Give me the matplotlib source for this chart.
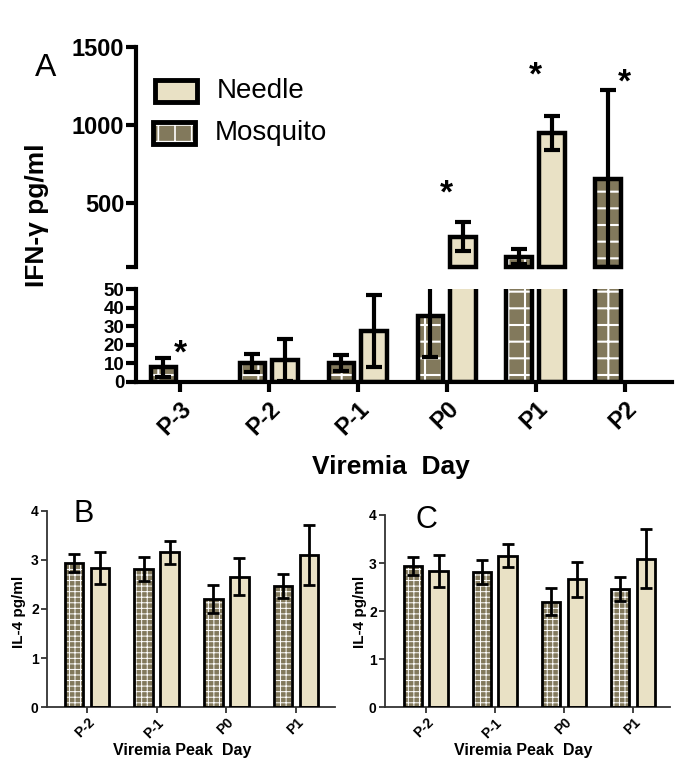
"""IFN-gamma / IL-4 Balkendiagramme (Needle vs. Mosquito)."""

import numpy as np
import matplotlib
matplotlib.use("Agg")
import matplotlib.pyplot as plt
from matplotlib.patches import Rectangle

plt.rcParams['font.family'] = ['Liberation Sans', 'DejaVu Sans']
plt.rcParams['hatch.linewidth'] = 1.2

NEEDLE_COLOR = '#E9E1C5'
MOSQ_COLOR = '#82795C'

# Panel A: IFN-gamma (pg/ml), Achse mit Bruch
days_a = ['P-3', 'P-2', 'P-1', 'P0', 'P1', 'P2']
needle_a = [np.nan, 11.7, 27.6, 284, 951, np.nan]
needle_err_a = [np.nan, 11.3, 19.4, 95, 110, np.nan]
mosquito_a = [7.8, 10.0, 10.0, 35.6, 155, 654]
mosquito_err_a = [5.0, 4.8, 4.3, 22.4, 48, 569]
star_days_a = ['P-3', 'P0', 'P1', 'P2']
star_y_a = [21, 628, 1386, 1341]
lower_ticks_a = [0, 10, 20, 30, 40, 50]
upper_ticks_a = [500, 1000, 1500]
BREAK_LO = 50   # oberes Ende des unteren Segments
BREAK_HI = 90   # unteres Ende des oberen Segments

# Panel B und C: IL-4 (pg/ml)
days_b = ['P-2', 'P-1', 'P0', 'P1']
mosquito_b = [2.94, 2.81, 2.20, 2.47]
mosquito_err_b = [0.18, 0.25, 0.29, 0.25]
needle_b = [2.83, 3.15, 2.66, 3.09]
needle_err_b = [0.33, 0.24, 0.37, 0.61]


def draw_bars(ax, x, vals, errs, color, hatch, width, lw, elw, capsize,
              bottom=0.0, clip_outline=True, hatch_lw=1.2):
    """Balken mit weisser Schraffur, schwarzem Rand und Fehlerbalken."""
    vals = np.asarray(vals, float)
    heights = vals - bottom
    fill = ax.bar(x, heights, width, bottom=bottom, color=color,
                  edgecolor='white' if hatch else color, hatch=hatch,
                  linewidth=0, zorder=2)
    for p in fill:
        if hasattr(p, 'set_hatch_linewidth'):
            p.set_hatch_linewidth(hatch_lw)
    ax.bar(x, heights, width, bottom=bottom, facecolor='none',
           edgecolor='black', linewidth=lw, zorder=3, clip_on=clip_outline)
    ax.errorbar(x, vals, yerr=errs, fmt='none', ecolor='black',
                elinewidth=elw, capsize=capsize, capthick=elw, zorder=4)


def panel_a(fig):
    ax_up = fig.add_axes([0.1985, 0.6585, 0.7825, 0.2809])
    ax_lo = fig.add_axes([0.1985, 0.5113, 0.7825, 0.1183])
    x = np.arange(len(days_a))
    w, off = 0.29, 0.185

    # unteres Segment
    draw_bars(ax_lo, x - off, mosquito_a, mosquito_err_a, MOSQ_COLOR, '+', w, 3.2, 3.0, 5.5,
              hatch_lw=1.5)
    draw_bars(ax_lo, x + off, needle_a, needle_err_a, NEEDLE_COLOR, None, w, 3.2, 3.0, 5.5)
    ax_lo.set_ylim(0, BREAK_LO)
    ax_lo.set_yticks(lower_ticks_a)
    ax_lo.set_xticks(x)
    ax_lo.set_xticklabels(days_a, rotation=45, ha='right', va='top',
                          rotation_mode='anchor', fontsize=17, fontweight='bold')

    # oberes Segment: nur Werte oberhalb des Bruchs
    m_up = np.where(np.array(mosquito_a) > BREAK_HI, mosquito_a, np.nan)
    n_up = np.where(np.nan_to_num(needle_a) > BREAK_HI, needle_a, np.nan)
    draw_bars(ax_up, x - off, m_up, mosquito_err_a, MOSQ_COLOR, '+', w, 3.2, 3.0, 5.5,
              bottom=BREAK_HI, clip_outline=False, hatch_lw=1.5)
    draw_bars(ax_up, x + off, n_up, needle_err_a, NEEDLE_COLOR, None, w, 3.2, 3.0, 5.5,
              bottom=BREAK_HI, clip_outline=False)
    ax_up.set_ylim(BREAK_HI, 1500)
    ax_up.set_yticks([BREAK_HI] + upper_ticks_a)
    ax_up.set_yticklabels([''] + [str(t) for t in upper_ticks_a])
    ax_up.set_xticks([])

    # 50er-Skala ist eng, daher kleinere Schrift unten
    for ax, size in ((ax_up, 17), (ax_lo, 13.5)):
        ax.set_xlim(-0.494, 5.53)
        for s in ('top', 'right'):
            ax.spines[s].set_visible(False)
        ax.spines['left'].set_linewidth(3)
        ax.spines['bottom'].set_linewidth(3)
        ax.tick_params(axis='y', length=7, width=3, pad=1.5, labelsize=size)
        for lab in ax.get_yticklabels():
            lab.set_fontweight('bold')
    ax_up.spines['bottom'].set_visible(False)
    ax_lo.tick_params(axis='x', length=7, width=3, pad=4)

    # Signifikanz-Sterne
    for day, y in zip(star_days_a, star_y_a):
        ax = ax_lo if y <= BREAK_LO else ax_up
        ax.annotate('*', (days_a.index(day), y), xytext=(0, -14),
                    textcoords='offset points', ha='center', va='baseline',
                    fontsize=24, fontweight='bold', annotation_clip=False)

    # Legende
    fig.patches.append(Rectangle((155 / 685, 1 - 102 / 781), 42 / 685, 22 / 781,
                                 transform=fig.transFigure, facecolor=NEEDLE_COLOR,
                                 edgecolor='black', linewidth=3.5))
    fig.patches.append(Rectangle((153 / 685, 1 - 144 / 781), 42 / 685, 22 / 781,
                                 transform=fig.transFigure, facecolor=MOSQ_COLOR,
                                 edgecolor='white', hatch='+', linewidth=0))
    fig.patches.append(Rectangle((153 / 685, 1 - 144 / 781), 42 / 685, 22 / 781,
                                 transform=fig.transFigure, facecolor='none',
                                 edgecolor='black', linewidth=3.5))
    fig.text(217 / 685, 1 - 91 / 781, 'Needle', fontsize=20, va='center')
    fig.text(215 / 685, 1 - 133 / 781, 'Mosquito', fontsize=20, va='center')

    fig.text(37 / 685, 1 - 215 / 781, 'IFN-γ pg/ml', rotation=90, ha='center',
             va='center', fontsize=19, fontweight='bold')
    fig.text(391 / 685, 1 - 467 / 781, 'Viremia  Day', ha='center', va='center',
             fontsize=19, fontweight='bold')
    fig.text(46 / 685, 1 - 68 / 781, 'A', ha='center', va='center', fontsize=23)


def panel_il4(fig, rect, xlim, letter, letter_xy, ylabel_xy, xlabel_xy):
    ax = fig.add_axes(rect)
    x = np.arange(len(days_b))
    w, off = 0.27, 0.186
    draw_bars(ax, x - off, mosquito_b, mosquito_err_b, MOSQ_COLOR, '+++', w, 2.0, 2.0, 4.5,
              hatch_lw=0.7)
    draw_bars(ax, x + off, needle_b, needle_err_b, NEEDLE_COLOR, None, w, 2.0, 2.0, 4.5)
    ax.set_xlim(*xlim)
    ax.set_ylim(0, 4)
    ax.set_yticks([0, 1, 2, 3, 4])
    ax.set_xticks(x)
    ax.set_xticklabels(days_b, rotation=45, ha='right', va='top',
                       rotation_mode='anchor', fontsize=10.5, fontweight='bold')
    for lab in ax.get_yticklabels():
        lab.set_fontweight('bold')
    for s in ('top', 'right'):
        ax.spines[s].set_visible(False)
    for s in ('left', 'bottom'):
        ax.spines[s].set_linewidth(1.3)
        ax.spines[s].set_color('#333333')
    ax.tick_params(length=4, width=1.3, color='#333333', labelsize=10, pad=2)

    fig.text(ylabel_xy[0] / 685, 1 - ylabel_xy[1] / 781, 'IL-4 pg/ml', rotation=90,
             ha='center', va='center', fontsize=11, fontweight='bold')
    fig.text(xlabel_xy[0] / 685, 1 - xlabel_xy[1] / 781, 'Viremia Peak  Day',
             ha='center', va='center', fontsize=11.5, fontweight='bold')
    fig.text(letter_xy[0] / 685, 1 - letter_xy[1] / 781, letter, ha='center',
             va='center', fontsize=22)


def main():
    fig = plt.figure(figsize=(6.85, 7.81), dpi=100)
    panel_a(fig)
    panel_il4(fig, [0.0686, 0.0944, 0.4204, 0.2517], (-0.574, 3.56), 'B',
              (84, 514), (19, 612), (182, 751))
    panel_il4(fig, [0.5620, 0.0944, 0.4161, 0.2462], (-0.594, 3.536), 'C',
              (426, 520), (360, 612), (523, 751))
    fig.savefig('out.png', dpi=100)


if __name__ == "__main__":
    main()
